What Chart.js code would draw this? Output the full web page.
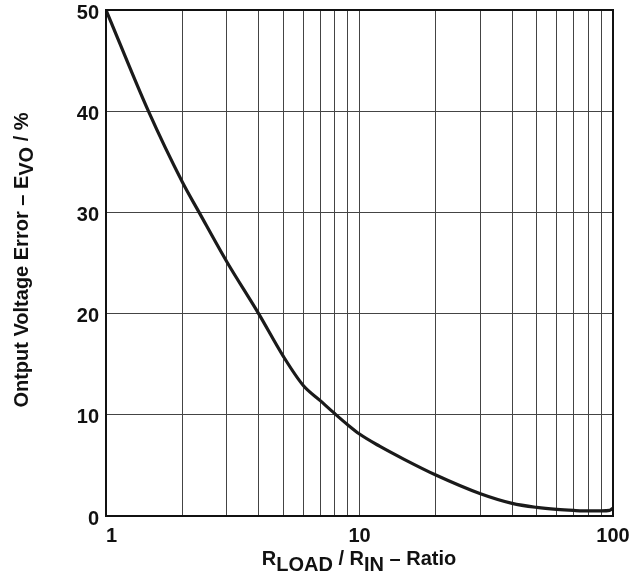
<!DOCTYPE html>
<html>
<head>
<meta charset="utf-8">
<script src="https://cdn.jsdelivr.net/npm/chart.js@4"></script>
<style>
  html, body { margin: 0; padding: 0; background: #fff; }
  #wrap { width: 629px; height: 582px; }
</style>
</head>
<body>
<div id="wrap"><canvas id="chart" width="629" height="582"></canvas></div>
<script>
// Curve: RLOAD/RIN ratio vs output error (%)
const ratio = [1, 1.47, 2, 2.33, 3, 4, 5, 6, 7, 8, 9, 10, 12, 15, 20, 30, 40, 50, 60, 70, 80, 90, 97, 100];
const errorPct = [50, 40, 33, 30, 25.1, 20, 15.8, 12.9, 11.4, 10.1, 9.0, 8.1, 6.9, 5.6, 4.05, 2.2, 1.25, 0.85, 0.65, 0.55, 0.5, 0.5, 0.55, 0.8];

// tick labels
const xTicks = [1, 2, 3, 4, 5, 6, 7, 8, 9, 10, 20, 30, 40, 50, 60, 70, 80, 90, 100];
const xLabels = [1, 10, 100];
const yTicks = [0, 10, 20, 30, 40, 50];

const FONT = 'bold 20px Liberation Sans, Arial, sans-serif';

// border box, tick labels and axis titles (with subscripts)
const frame = {
  id: 'frame',
  afterDraw(chart) {
    const { ctx, chartArea: a } = chart;
    const sx = chart.scales.x, sy = chart.scales.y;
    ctx.save();
    ctx.strokeStyle = '#111';
    ctx.lineWidth = 2;
    ctx.strokeRect(a.left, a.top, a.right - a.left, a.bottom - a.top);

    ctx.fillStyle = '#111';
    ctx.font = FONT;

    // y tick labels
    ctx.textAlign = 'right';
    ctx.textBaseline = 'middle';
    yTicks.forEach(v => ctx.fillText(String(v), a.left - 7, sy.getPixelForValue(v) + 3));

    // x tick labels ("1" sits just right of the axis)
    ctx.textBaseline = 'alphabetic';
    xLabels.forEach(v => {
      ctx.textAlign = v === 1 ? 'left' : 'center';
      ctx.fillText(String(v), sx.getPixelForValue(v), 542);
    });

    // x title
    ctx.textAlign = 'left';
    const xParts = [['R', 0], ['LOAD', 6], [' / R', 0], ['IN', 6], [' \u2013 Ratio', 0]];
    let w = 0;
    xParts.forEach(p => w += ctx.measureText(p[0]).width);
    let x = 359 - w / 2;
    xParts.forEach(p => {
      ctx.fillText(p[0], x, 565 + p[1]);
      x += ctx.measureText(p[0]).width;
    });

    // y title
    ctx.translate(28, 260);
    ctx.rotate(-Math.PI / 2);
    const yParts = [['Ontput Voltage Error \u2013 E', 0], ['VO', 5], [' / %', 0]];
    w = 0;
    yParts.forEach(p => w += ctx.measureText(p[0]).width);
    x = -w / 2;
    yParts.forEach(p => {
      ctx.fillText(p[0], x, p[1]);
      x += ctx.measureText(p[0]).width;
    });
    ctx.restore();
  }
};

new Chart(document.getElementById('chart'), {
  type: 'line',
  data: {
    datasets: [{
      data: ratio.map((r, i) => ({ x: r, y: errorPct[i] })),
      borderColor: '#1a1a1a',
      borderWidth: 3.2,
      pointRadius: 0,
      cubicInterpolationMode: 'monotone',
      fill: false
    }]
  },
  options: {
    responsive: false,
    animation: false,
    layout: { padding: { left: 0, top: 10, right: 16, bottom: 0 } },
    plugins: { legend: { display: false }, tooltip: { enabled: false } },
    scales: {
      x: {
        type: 'logarithmic',
        min: 1,
        max: 100,
        afterBuildTicks: s => { s.ticks = xTicks.map(v => ({ value: v })); },
        afterFit: s => { s.height = 66; },
        grid: { color: '#444', lineWidth: 1, drawTicks: false },
        border: { color: '#111', width: 2 },
        ticks: { display: false, autoSkip: false }
      },
      y: {
        min: 0,
        max: 50,
        afterBuildTicks: s => { s.ticks = yTicks.map(v => ({ value: v })); },
        afterFit: s => { s.width = 106; },
        grid: { color: '#444', lineWidth: 1, drawTicks: false },
        border: { color: '#111', width: 2 },
        ticks: { display: false }
      }
    }
  },
  plugins: [frame]
});
</script>
</body>
</html>
